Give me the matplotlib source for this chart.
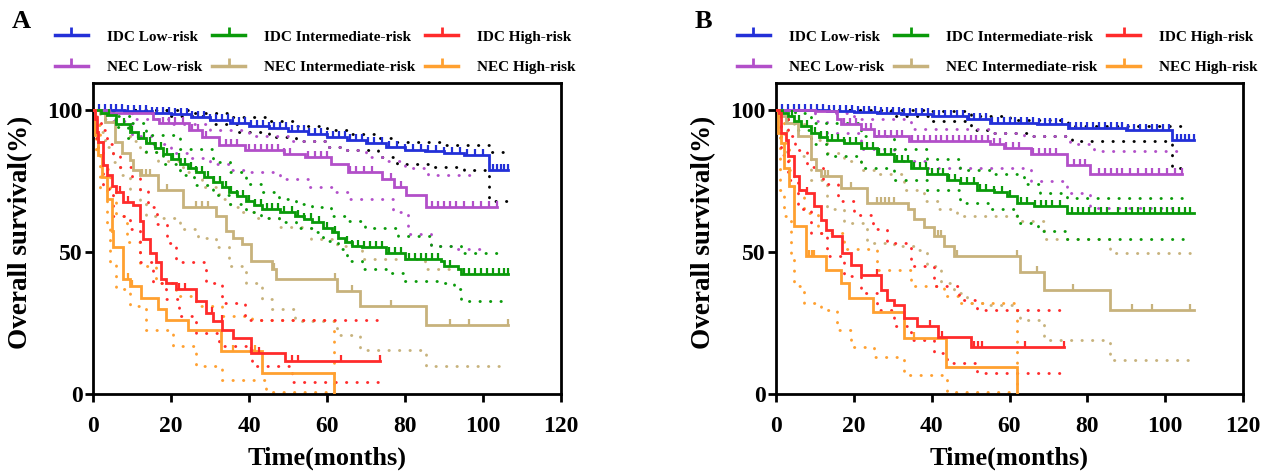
import numpy as np
import matplotlib
matplotlib.use("Agg")
import matplotlib.pyplot as plt
from matplotlib.lines import Line2D

plt.rcParams["font.family"] = ["Liberation Serif", "DejaVu Serif"]
plt.rcParams["font.weight"] = "bold"

# ---- colours ----
BLUE, GREEN, RED = "#2330d8", "#0a9a0a", "#ff2b2b"
PURPLE, TAN, ORANGE = "#b24fc9", "#c7b27c", "#ffa030"

LABELS = ["IDC Low-risk", "IDC Intermediate-risk", "IDC High-risk",
          "NEC Low-risk", "NEC Intermediate-risk", "NEC High-risk"]
X_TICKS = [0, 20, 40, 60, 80, 100, 120]
Y_TICKS = [0, 50, 100]

# ---- panel A: (month, survival %) step points ----
a_idc_low = [(0, 100), (8, 99.5), (15, 99), (20, 98.5), (25, 97.5), (30, 96.5), (35, 95.5), (40, 94.5),
             (45, 93.5), (50, 92.5), (55, 91.5), (60, 90.5), (65, 89.5), (70, 88.5), (75, 87), (80, 86),
             (85, 85.5), (90, 85), (95, 84), (101.5, 78.7), (106.5, 78.7)]
a_idc_low_hi = [(0, 100), (25, 99), (35, 97.5), (45, 96), (52, 94.5), (60, 93), (66, 91.5), (72, 90),
                (78, 88.8), (89, 87.8), (101.5, 85.2), (106.5, 85.2)]
a_idc_low_lo = [(0, 100), (20, 98), (30, 95), (37.5, 92.3), (45, 90.5), (52, 89), (60, 87), (65, 85.8),
                (73, 83.5), (78, 81), (86.7, 80), (95, 79), (101.5, 68.1), (106.5, 68.1)]
a_idc_low_cens = [1.5, 3, 4.5, 6, 7.5, 9, 10.5, 12, 13.5, 15, 16.5, 18, 19.5, 21, 22.5, 24, 25.5, 27, 28.5,
                  30, 31.5, 33, 34.5, 36, 37.5, 39, 40.5, 42, 43.5, 45, 46.5, 48, 49.5, 51, 52.5, 54, 55.5,
                  57, 58.5, 60, 61.5, 63, 64.5, 66, 67.5, 69, 70.5, 72, 74, 76, 78, 80, 82, 84, 86, 88, 90,
                  92, 94, 96, 98, 100, 102.5, 103.5, 104.5, 105.5, 106.5]

a_idc_mid = [(0, 100), (2, 99), (3.5, 98.2), (6, 95), (9.4, 92.3), (11.5, 90), (13.7, 88.2), (16, 86.5),
             (17.9, 84.6), (20, 82.8), (22.2, 81.1), (24.3, 79.7), (26.4, 78.2), (28.5, 76.4), (30.7, 74.6),
             (33, 72.8), (34.9, 71.1), (37, 69.6), (39.2, 68.1), (41.3, 66.6), (43.4, 65.2), (48, 64),
             (51.9, 62.8), (54, 61.5), (56.1, 60.4), (59, 58.5), (61.2, 56.9), (62.9, 55), (64.6, 53.4),
             (66.5, 52), (68.9, 51.6), (75, 49.8), (80, 47.5), (89.3, 46.9), (90.1, 45.1), (93.5, 43.9),
             (94.4, 42.1), (106.5, 42.1)]
a_idc_mid_hi = [(0, 100), (5, 98), (9.4, 95.5), (13.7, 91.1), (22.2, 86.4), (30.7, 81.7), (35, 78),
                (39.2, 74), (43, 71), (47.6, 68.7), (52, 67), (56.1, 65.8), (61, 62.5), (65, 61),
                (69.7, 58.5), (78.2, 55.7), (86.7, 52.2), (94.4, 49.8), (106, 49.8)]
a_idc_mid_lo = [(0, 100), (3, 97), (6, 94.1), (9, 90), (13.7, 85.2), (18, 81), (22.2, 77), (26, 73.5),
                (30.7, 69.9), (35, 67), (39.2, 64), (43, 62), (47.6, 60.4), (52, 58.5), (56.1, 56.9),
                (59, 54), (62.9, 51), (65, 47), (68.9, 43.9), (75, 42.7), (80, 39.8), (89.3, 39.2),
                (92.6, 36.8), (94.4, 32.7), (106.5, 32.7)]
a_idc_mid_cens = [4, 6, 8, 10, 11.5, 13, 14.5, 16, 17.5, 19, 20.5, 22, 23.5, 25, 26.5, 28, 29.5, 31, 32.5,
                  34, 35.5, 37, 38.5, 40, 41.5, 43, 44.5, 46, 47.5, 49, 51, 52.5, 54, 56, 58, 60, 62, 65,
                  66.5, 68, 69.5, 71, 72.5, 74, 76, 77.5, 79, 81, 82.5, 84, 85.5, 87, 88.5, 91.5, 95, 96.5,
                  98, 99.5, 101, 102.5, 104, 105.5, 106.5]

a_idc_high = [(0, 100), (0.5, 97), (1, 92.3), (1.4, 88.8), (2.6, 80.5), (3.5, 77), (4.8, 73.4), (6, 71.1),
              (7.7, 67.5), (10.3, 66.4), (12, 61), (12.8, 54.5), (14.5, 49.8), (16.2, 46.3), (17.5, 40.4),
              (18.8, 39.2), (21.3, 36.8), (26.4, 32.7), (29, 28.6), (30.7, 25.6), (33.2, 22.7),
              (35.8, 19.7), (40.4, 14.4), (49.3, 11.5), (73.5, 11.5)]
a_idc_high_hi = [(0, 100), (1, 97), (2, 93), (3.5, 88), (5, 84), (7, 80), (10, 76), (12, 72), (14, 66),
                 (16.5, 60), (19, 53), (21.3, 46.3), (26.4, 46.3), (29, 39.2), (33, 32), (39, 26),
                 (73, 25.6)]
a_idc_high_lo = [(0, 100), (0.8, 90), (1.4, 84), (2.6, 72.3), (5, 62.8), (9.4, 58), (12, 46.3),
                 (15.4, 39.2), (18.8, 33.3), (22, 27.4), (26.4, 21.5), (32.4, 16.8), (40.8, 9.7),
                 (51, 4.4), (73, 4.4)]
a_idc_high_cens = [7, 9, 22, 23.5, 30.5, 33, 40.5, 42.5, 51, 52.5, 63.5, 73.5]

a_nec_low = [(0, 100), (4, 99), (15.5, 97), (17, 95.4), (24.7, 93), (28, 90.5), (32.4, 87.6), (39, 85.8),
             (49, 84.6), (54.4, 83.5), (61, 81.1), (65.5, 78.2), (74, 75.8), (77.3, 72.8), (80.3, 69.9),
             (85.5, 65.8), (103.5, 65.8)]
a_nec_low_hi = [(0, 100), (10, 97), (20, 95), (30, 93), (40, 91), (50, 89), (60, 87), (65, 86),
                (70, 83.5), (75, 82), (80, 79.5), (86, 77), (99, 77)]
a_nec_low_lo = [(0, 100), (5, 96), (10, 91), (15, 88), (20, 85), (25, 83), (30, 81), (35, 79), (40, 78),
                (48, 75.8), (55, 73), (62, 71), (66, 68.7), (74, 68.7), (77, 64), (80.8, 56.3),
                (86.7, 52.2), (92, 51), (101.5, 51)]
a_nec_low_cens = [18, 19.5, 21, 23, 25.5, 27, 29, 34, 35.5, 37, 40, 41.5, 43, 44.5, 46, 47.5, 49, 50.5,
                  55, 57, 58.5, 60, 66, 67.5, 69.5, 71.5, 76.5, 79, 87, 88.5, 90, 91.5, 93, 95, 97.5,
                  99.5, 101.5, 103.5]

a_nec_mid = [(0, 100), (1.8, 98.8), (3, 95.9), (5.6, 88.8), (7.5, 85), (9.4, 82.3), (10.3, 78.8),
             (12, 77), (16.6, 71.7), (23, 65.8), (31.5, 62.8), (34, 57.5), (36, 55.1), (38.3, 52.8),
             (40.4, 46.9), (46, 43.9), (46.8, 40.4), (62.5, 36.2), (68.5, 30.9), (85.4, 24.4),
             (106.5, 24.4)]
a_nec_mid_hi = [(0, 100), (2, 99), (5, 95), (9.4, 89), (12, 85.2), (16.6, 82), (23, 78.2), (28, 73),
                (32.4, 68.7), (35, 66), (38.3, 64), (42, 62), (47.6, 58.7), (56, 54.5), (62.5, 52),
                (68.9, 47.5), (85, 43.9), (92, 43.9)]
a_nec_mid_lo = [(0, 100), (1.8, 92.3), (3, 87), (5.2, 81.7), (7, 77), (9.4, 72.3), (12, 67),
                (13.7, 62.8), (16.6, 62), (22.2, 58.1), (27, 55), (31.5, 51.6), (34.9, 45.1),
                (39.2, 39.2), (43.4, 33.3), (46, 29.8), (51.9, 25.6), (62.5, 20.9), (68.5, 15.6),
                (85.4, 9.7), (104.5, 9.7)]
a_nec_mid_cens = [12.5, 13.5, 14.5, 19, 26.5, 28, 29.5, 46.5, 62, 66.5, 76.5, 91.5, 96.5, 106.5]

a_nec_high = [(0, 100), (0.5, 91.1), (1.4, 84), (2.2, 76.4), (3.5, 68.7), (4.8, 57.5), (5.2, 51.6),
              (7.7, 40.4), (9.4, 38), (12.4, 33.9), (16.6, 29.8), (18.8, 26.2), (24.3, 22.7),
              (32.8, 15), (43.4, 7.3), (61.7, 0)]
a_nec_high_hi = [(0, 100), (0.8, 94.7), (1.8, 88.8), (2.6, 79.3), (4.3, 71.1), (6, 62.8), (8.6, 53.4),
                 (12, 45.1), (16.2, 39.2), (21.3, 34.5), (26.4, 30.9), (33.2, 27.4), (40.8, 26),
                 (61.7, 0)]
a_nec_high_lo = [(0, 100), (0.8, 84), (1.8, 72.3), (3.5, 59), (4.3, 46.3), (6, 36.8), (9.4, 30.9),
                 (13.7, 22.7), (20.5, 16.8), (26.4, 9.7), (33.2, 5), (44.3, 0.8), (61.7, 0.8)]
a_nec_high_cens = [9, 10, 36, 41.5]

# ---- panel B ----
b_idc_low = [(0, 100), (13, 99.8), (20, 99.3), (26, 99), (32, 98.5), (40, 97.9), (49, 96.7), (55, 95.5),
             (67, 95), (75, 93.8), (90, 92.8), (101.7, 89.6), (107.3, 89.6)]
b_idc_low_hi = [(0, 100), (40, 99.5), (50, 98), (60, 96.5), (75, 94.5), (105, 94.5)]
b_idc_low_lo = [(0, 100), (20, 99.5), (30, 98), (40, 96), (50, 93), (55, 92), (66, 90.8), (76, 89),
                (101.7, 79.6), (105, 79.6)]
b_idc_low_cens = [1.5, 3, 4.5, 6, 7.5, 9, 10.5, 12, 13.5, 15, 16.5, 18, 19.5, 21, 22.5, 24, 25.5, 27, 28.5,
                  30, 31.5, 33, 34.5, 36, 37.5, 39, 40.5, 42, 43.5, 45, 46.5, 48, 49.5, 51, 52.5, 54, 55.5,
                  57, 58.5, 60, 61.5, 63, 64.5, 66, 67.5, 69, 70.5, 72, 73.5, 75.5, 77, 78.5, 80, 81.5, 83,
                  84.5, 86, 87.5, 89, 90.5, 92, 93.5, 95, 96.5, 98, 99.5, 101, 103, 104, 105, 106, 107.3]

b_idc_mid = [(0, 100), (1.5, 99), (3, 97.9), (4.5, 96), (6.4, 94.4), (9, 92), (11, 90.5), (13.2, 89.6),
             (17.5, 88.5), (21.8, 86.7), (26, 84.4), (30.3, 82), (34.6, 79.6), (38.9, 77.3), (44, 75.5),
             (47.4, 74.4), (51.7, 72), (56, 71), (59.4, 69.6), (62, 67.3), (66.2, 66.1), (74.8, 63.8),
             (107.3, 63.8)]
b_idc_mid_hi = [(0, 100), (5, 99), (9, 95.5), (21.8, 90.8), (30.3, 86.1), (38.9, 82.6), (47.4, 79),
                (55, 77.3), (63.7, 73.8), (67.9, 70.8), (74.8, 69), (106.4, 69)]
b_idc_mid_lo = [(0, 100), (3, 96), (5, 93), (9, 88), (13.2, 83.8), (21.8, 79.6), (30.3, 75.5),
                (38.9, 72), (47.4, 67.3), (55, 65), (62, 60.2), (67.2, 57.3), (74.8, 54.7), (106.4, 54.7)]
b_idc_mid_cens = [4, 6, 8, 10, 11.5, 13, 14.5, 16, 17.5, 19, 20.5, 22, 23.5, 25, 26.5, 28, 29.5, 31, 32.5,
                  34, 35.5, 37, 38.5, 40, 41.5, 43, 44.5, 46, 47.5, 49, 51, 52.5, 54, 56, 58, 60, 63, 64.5,
                  66.5, 68, 69.5, 71, 73, 76, 77.5, 79, 80.5, 82, 83.5, 85, 88, 90, 91.5, 93, 94.5, 96,
                  97.5, 99, 100.5, 102, 103.5, 105, 106.4]

b_idc_high = [(0, 100), (0.8, 98.8), (1.3, 92), (2.6, 89.6), (3, 83.8), (4.7, 76.7), (6, 72), (7.7, 70.8),
              (9.8, 66.1), (11.5, 61.4), (12.8, 57.9), (14.5, 55.5), (17, 49.6), (19.2, 45.5), (21.8, 42),
              (26.9, 36.7), (28.6, 33.2), (30.3, 31.4), (32.9, 26.7), (36.3, 23.8), (41.5, 20.2),
              (50, 16.7), (73.9, 16.7)]
b_idc_high_hi = [(0, 100), (0.8, 98), (3, 91), (5, 86), (8, 80), (12, 74), (16, 68), (20, 63), (25, 58),
                 (28.6, 53), (34.6, 45), (40.6, 38), (47, 33), (51.7, 29.6), (73, 29.6)]
b_idc_high_lo = [(0, 100), (1.3, 84), (3, 75.5), (5.6, 65), (9, 56.7), (13.2, 48.5), (17.5, 41.4),
                 (21.8, 35.5), (26, 29.6), (30.3, 23.8), (34.6, 19), (40.6, 14.3), (44, 10.8),
                 (51.7, 7.3), (73, 7.3)]
b_idc_high_cens = [8, 26, 39.7, 42.7, 50.9, 52, 53, 64, 73.9]

b_nec_low = [(0, 100), (10, 99.5), (15.8, 96.7), (16.7, 95), (21.8, 93.2), (25.2, 90.8), (34.2, 89),
             (55, 88), (58.5, 86.5), (65.4, 84.4), (74.8, 80.8), (80.8, 77.3), (104.3, 77.3)]
b_nec_low_hi = [(0, 100), (15, 99), (20, 96.7), (34.6, 93.2), (55, 92), (63.7, 90.8), (75.6, 87.9),
                (81.6, 85.5), (104.3, 85.5)]
b_nec_low_lo = [(0, 100), (10, 96), (13.2, 92), (21.8, 86.1), (30.3, 82), (38.9, 79.6), (63.7, 79),
                (65.4, 75), (74.8, 70.8), (80.8, 65.5), (104.3, 65.5)]
b_nec_low_cens = [17.5, 19, 20.5, 23, 24.5, 26.5, 28, 29.5, 31, 32.5, 35, 36.5, 38, 39.5, 41, 42.5, 44,
                  45.5, 47, 48.5, 50, 51.5, 53, 54.5, 56, 57.5, 59, 61, 62.5, 66, 67.5, 69, 70.5, 72,
                  76.5, 78, 79.5, 83, 84.5, 86, 87.5, 89, 91, 93, 95, 96.5, 98.5, 100.5, 102.5, 104.3]

b_nec_mid = [(0, 100), (1.3, 98), (2.6, 95.5), (5.6, 90.8), (9, 82.6), (10.3, 79), (11.5, 76.7),
             (16.7, 72.6), (23.5, 67.3), (33.8, 65), (35.5, 61.6), (38, 58.7), (40.6, 55.7), (43.2, 52.2),
             (45.7, 48.5), (62.8, 42.8), (68.8, 36.7), (85.9, 29.4), (107.3, 29.4)]
b_nec_mid_hi = [(0, 100), (2.6, 98), (4.7, 95), (9, 89.6), (13.2, 85), (17.5, 82), (21.8, 79),
                (26, 77.3), (33, 72), (38, 68), (42, 65), (46.5, 62.6), (62.8, 60.8), (68.8, 54.4),
                (85.9, 49.6), (106.4, 49.6)]
b_nec_mid_lo = [(0, 100), (2.9, 83.8), (9, 75.5), (13.2, 65), (17.5, 60.2), (23.5, 53.2), (30.3, 52),
                (35.5, 50.8), (38.9, 45), (42.3, 39), (45.7, 35.5), (49, 32), (55, 31.4), (62, 29.6),
                (62.8, 26), (68.8, 19), (85.9, 12), (106.4, 12)]
b_nec_mid_cens = [12.5, 13.3, 19.2, 26, 27, 28, 29, 30.3, 41.5, 42.3, 46.6, 62, 67, 76.4, 91.4, 96.5, 106.4]

b_nec_high = [(0, 100), (0.4, 91.8), (1.3, 88.2), (2.1, 79.6), (3.4, 73.2), (4.7, 59), (7.7, 48.5),
              (12.8, 43.8), (16.7, 39), (18.8, 33.8), (24.8, 29), (32.9, 19.7), (43.6, 9.6), (61.8, 0)]
b_nec_high_hi = [(0, 100), (1.3, 96), (2.1, 88.2), (3.4, 79), (4.7, 72), (7.3, 63.8), (10.7, 56.7),
                 (17.5, 51), (26, 43.8), (34.6, 37.9), (43.2, 34.4), (47.4, 32), (61.8, 0)]
b_nec_high_lo = [(0, 100), (0.9, 72), (2.1, 62.6), (3.8, 48.5), (4.7, 37.9), (7.3, 32), (11.5, 29.6),
                 (15.8, 22.6), (19.2, 16.7), (25.2, 13.2), (32.9, 6.7), (44, 0.8), (61.8, 0.8)]
b_nec_high_cens = [8.5, 9.2, 9.8, 35.5]


def draw_curve(ax, pts, hi, lo, cens, color, ci_color):
    t, s = np.array(pts, dtype=float).T
    for band in (hi, lo):
        bt, bs = np.array(band, dtype=float).T
        ax.step(bt, bs, where="post", color=ci_color, lw=2.1,
                linestyle=(0, (0.1, 3.5)), dash_capstyle="round", zorder=2)
    ax.step(t, s, where="post", color=color, lw=2.0, zorder=3, solid_joinstyle="miter")
    # censor marks sit on the curve, pointing up
    c = np.array(cens, dtype=float)
    idx = np.searchsorted(t, c, side="right") - 1
    ax.plot(c, s[idx], linestyle="none", marker=2, markersize=4.5, markeredgewidth=1.6,
            color=color, zorder=3)


def style_axes(ax):
    ax.set_xlim(0, 120)
    ax.set_ylim(0, 109.5)
    ax.set_xticks(X_TICKS)
    ax.set_yticks(Y_TICKS)
    for sp in ax.spines.values():
        sp.set_linewidth(2.0)
    ax.tick_params(direction="out", length=5.5, width=2, labelsize=17)
    ax.tick_params(axis="x", pad=10)
    ax.tick_params(axis="y", pad=2)
    ax.set_xlabel("Time(months)", fontsize=19, fontweight="bold", labelpad=7)
    ax.set_ylabel("Overall survival(%)", fontsize=19.5, fontweight="bold")
    ax.yaxis.set_label_coords(-0.128, 0.52)


def add_legend(fig, x_left):
    colors = [BLUE, GREEN, RED, PURPLE, TAN, ORANGE]
    handles = [Line2D([], [], color=c, lw=2.5, marker=2, markersize=6, markeredgewidth=2)
               for c in colors]
    # legend fills column-wise, so reorder to get rows IDC / NEC
    order = [0, 3, 1, 4, 2, 5]
    leg = fig.legend([handles[i] for i in order], [LABELS[i] for i in order],
                     loc="upper left", bbox_to_anchor=(x_left, 1 - 30 / 472), ncol=3,
                     frameon=False, fontsize=11, numpoints=1, handlelength=2.15,
                     handletextpad=1.25, columnspacing=0.65, labelspacing=1.1,
                     borderpad=0, borderaxespad=0)
    for txt in leg.get_texts():
        txt.set_fontweight("bold")
    return leg


W, H = 1269, 472
fig = plt.figure(figsize=(W / 100, H / 100), dpi=100)
axA = fig.add_axes([93 / W, 1 - 394 / H, (561 - 93) / W, (394 - 83) / H])
axB = fig.add_axes([776 / W, 1 - 394 / H, (1243 - 776) / W, (394 - 83) / H])

panel_a = [
    (a_idc_low, a_idc_low_hi, a_idc_low_lo, a_idc_low_cens, BLUE, "black"),
    (a_nec_low, a_nec_low_hi, a_nec_low_lo, a_nec_low_cens, PURPLE, PURPLE),
    (a_nec_mid, a_nec_mid_hi, a_nec_mid_lo, a_nec_mid_cens, TAN, TAN),
    (a_idc_mid, a_idc_mid_hi, a_idc_mid_lo, a_idc_mid_cens, GREEN, GREEN),
    (a_nec_high, a_nec_high_hi, a_nec_high_lo, a_nec_high_cens, ORANGE, ORANGE),
    (a_idc_high, a_idc_high_hi, a_idc_high_lo, a_idc_high_cens, RED, RED),
]
panel_b = [
    (b_idc_low, b_idc_low_hi, b_idc_low_lo, b_idc_low_cens, BLUE, "black"),
    (b_nec_low, b_nec_low_hi, b_nec_low_lo, b_nec_low_cens, PURPLE, PURPLE),
    (b_nec_mid, b_nec_mid_hi, b_nec_mid_lo, b_nec_mid_cens, TAN, TAN),
    (b_idc_mid, b_idc_mid_hi, b_idc_mid_lo, b_idc_mid_cens, GREEN, GREEN),
    (b_nec_high, b_nec_high_hi, b_nec_high_lo, b_nec_high_cens, ORANGE, ORANGE),
    (b_idc_high, b_idc_high_hi, b_idc_high_lo, b_idc_high_cens, RED, RED),
]

for ax, series in ((axA, panel_a), (axB, panel_b)):
    for pts, hi, lo, cens, col, ci_col in series:
        draw_curve(ax, pts, hi, lo, cens, col, ci_col)
    style_axes(ax)

add_legend(fig, 55 / W)
add_legend(fig, 737 / W)

fig.text(12 / W, 1 - 22 / H, "A", fontsize=19, fontweight="bold", va="center")
fig.text(695 / W, 1 - 22 / H, "B", fontsize=19, fontweight="bold", va="center")

fig.savefig("out.png", dpi=100)
